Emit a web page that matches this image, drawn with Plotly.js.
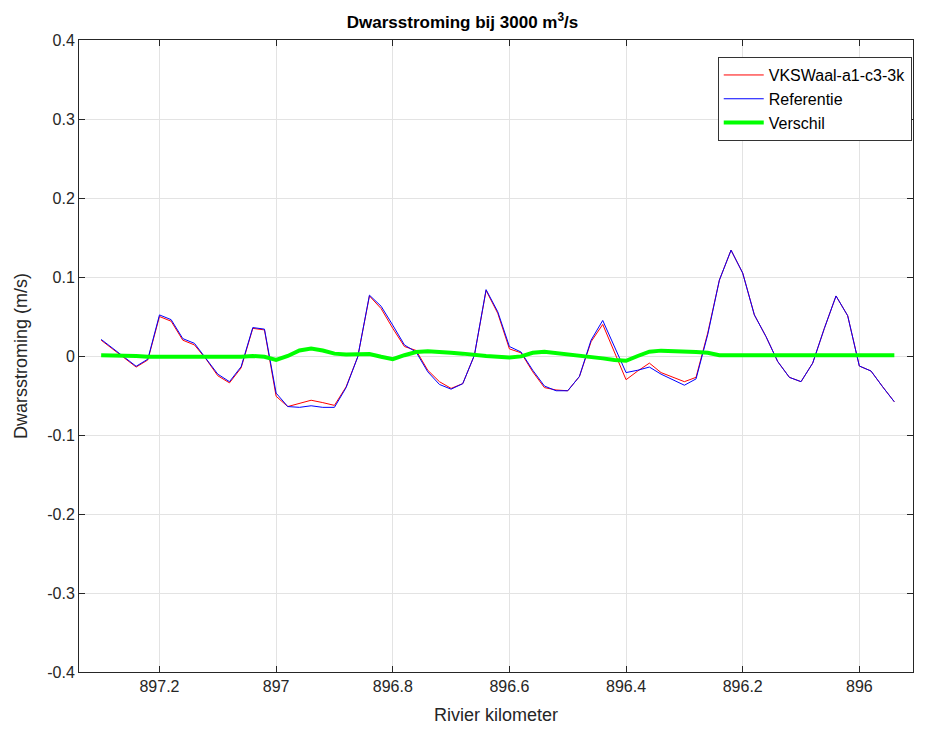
<!DOCTYPE html>
<html>
<head>
<meta charset="utf-8">
<script src="https://cdn.plot.ly/plotly-3.0.1.min.js"></script>
<style>html,body{margin:0;padding:0;background:#fff;}#chart{width:925px;height:729px;}</style>
</head>
<body>
<div id="chart"></div>
<script>
// River kilometre positions (every 0.02 km, from 897.30 down to 895.94)
const kmStart = 897.30;
const kmStep = 0.02;
const referentie = [
  0.021, 0.010, -0.001, -0.013, -0.004, 0.052, 0.046, 0.022, 0.016, -0.003,
  -0.023, -0.0325, -0.0135, 0.036, 0.034, -0.047, -0.064, -0.065, -0.063, -0.065,
  -0.065, -0.040, -0.001, 0.077, 0.063, 0.039, 0.014, 0.005, -0.020, -0.036,
  -0.042, -0.035, 0.001, 0.084, 0.056, 0.012, 0.005, -0.018, -0.038, -0.044,
  -0.044, -0.026, 0.020, 0.045, 0.012, -0.021, -0.018, -0.014, -0.023, -0.030,
  -0.037, -0.029, 0.027, 0.096, 0.134, 0.105, 0.052, 0.0245, -0.007, -0.027,
  -0.0325, -0.009, 0.035, 0.076, 0.051, -0.0127, -0.019, -0.039, -0.058
];
const vkswaal = [
  0.020, 0.009, -0.002, -0.014, -0.005, 0.050, 0.044, 0.020, 0.014, -0.004,
  -0.025, -0.034, -0.015, 0.035, 0.033, -0.051, -0.064, -0.060, -0.056, -0.059,
  -0.0625, -0.039, -0.001, 0.076, 0.060, 0.035, 0.012, 0.007, -0.018, -0.0325,
  -0.041, -0.035, 0.001, 0.083, 0.054, 0.009, 0.004, -0.020, -0.040, -0.043,
  -0.044, -0.026, 0.018, 0.040, 0.006, -0.030, -0.019, -0.009, -0.021, -0.027,
  -0.0325, -0.027, 0.029, 0.096, 0.134, 0.105, 0.052, 0.0245, -0.007, -0.027,
  -0.0325, -0.009, 0.035, 0.076, 0.051, -0.0127, -0.019, -0.039, -0.058
];
const verschil = [
  0.001, 0.001, 0.000, 0.000, -0.001, -0.001, -0.002, -0.002, -0.002, -0.002,
  -0.001, -0.001, -0.001, 0.000, -0.001, -0.005, 0.000, 0.007, 0.0095, 0.007,
  0.003, 0.002, 0.002, 0.0025, -0.001, -0.004, 0.001, 0.005, 0.006, 0.0055,
  0.004, 0.003, 0.001, 0.000, -0.001, -0.002, -0.0005, 0.004, 0.0055, 0.004,
  0.002, 0.001, -0.0005, -0.003, -0.005, -0.006, 0.000, 0.0055, 0.0068, 0.0065,
  0.0055, 0.005, 0.004, 0.001, 0.001, 0.001, 0.001, 0.001, 0.001, 0.001,
  0.001, 0.001, 0.001, 0.001, 0.001, 0.001, 0.001, 0.001, 0.001
];
const yTickVals = [-0.4, -0.3, -0.2, -0.1, 0, 0.1, 0.2, 0.3, 0.4];
const yTickText = ['-0.4', '-0.3', '-0.2', '-0.1', '0', '0.1', '0.2', '0.3', '0.4'];
const seriesNames = ['VKSWaal-a1-c3-3k', 'Referentie', 'Verschil'];

const km = referentie.map((_, i) => +(kmStart - i * kmStep).toFixed(2));

const font = 'Liberation Sans, Arial, sans-serif';
const axisCol = '#262626';

const traces = [
  {x: km, y: vkswaal, name: seriesNames[0], type: 'scatter', mode: 'lines',
   line: {color: '#ff0000', width: 1}},
  {x: km, y: referentie, name: seriesNames[1], type: 'scatter', mode: 'lines',
   line: {color: '#0000ff', width: 1}},
  {x: km, y: verschil, name: seriesNames[2], type: 'scatter', mode: 'lines',
   line: {color: '#00ff00', width: 4}}
];

const layout = {
  width: 925, height: 729,
  margin: {l: 79, r: 12, t: 40, b: 57},
  paper_bgcolor: '#ffffff', plot_bgcolor: '#ffffff',
  font: {family: font, color: axisCol, size: 16},
  title: {text: '<b>Dwarsstroming bij 3000 m<sup>3</sup>/s</b>', font: {family: font, size: 17, color: '#000'},
          x: 0.5, xanchor: 'center', y: 0.97, yanchor: 'middle'},
  xaxis: {
    range: [897.338, 895.908], dtick: 0.2, tick0: 896,
    showgrid: true, gridcolor: '#e3e3e3', gridwidth: 1, zeroline: false,
    showline: true, linecolor: axisCol, linewidth: 1, mirror: 'ticks',
    ticks: 'inside', ticklen: 6, tickcolor: axisCol,
    tickfont: {family: font, size: 16, color: axisCol},
    title: {text: 'Rivier kilometer', font: {family: font, size: 18, color: axisCol}, standoff: 14}
  },
  yaxis: {
    range: [-0.4, 0.4], tickvals: yTickVals, ticktext: yTickText,
    showgrid: true, gridcolor: '#e3e3e3', gridwidth: 1, zeroline: false,
    showline: true, linecolor: axisCol, linewidth: 1, mirror: 'ticks',
    ticks: 'inside', ticklen: 6, tickcolor: axisCol,
    tickfont: {family: font, size: 16, color: axisCol},
    title: {text: 'Dwarsstroming (m/s)', font: {family: font, size: 18, color: axisCol}, standoff: 14}
  },
  showlegend: true,
  legend: {x: 0.9985, y: 0.973, xanchor: 'right', yanchor: 'top',
           bgcolor: '#ffffff', bordercolor: '#333333', borderwidth: 1,
           font: {family: font, size: 16, color: '#000'}, tracegroupgap: 0,
           itemwidth: 40}
};

Plotly.newPlot('chart', traces, layout, {displayModeBar: false, staticPlot: true});
</script>
</body>
</html>
